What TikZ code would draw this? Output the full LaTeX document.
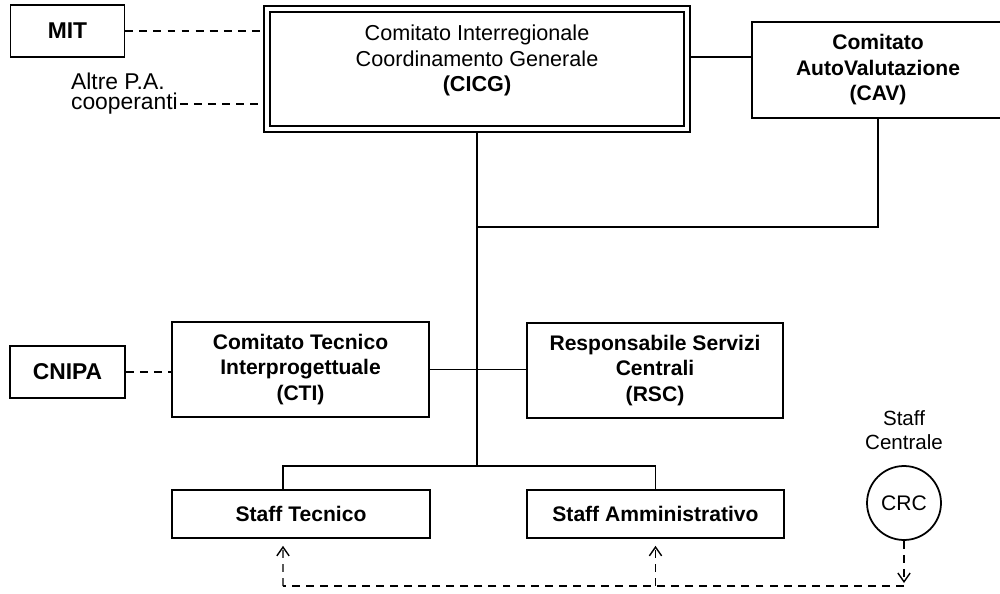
\documentclass[tikz,border=0pt]{standalone}
\usepackage{fontspec}
\setmainfont{Liberation Sans}
\usepackage{tikz}
\usetikzlibrary{arrows.meta}
\tikzset{
  box/.style={draw, line width=1pt, align=center, inner sep=2pt, font=\fontsize{12}{14.5}\selectfont\bfseries},
  headbox/.style={draw, double, line width=1.1pt, double distance=2.2pt, outer sep=2.2pt, align=center, font=\fontsize{12.3}{14.3}\selectfont},
  note/.style={inner sep=1pt, align=center, font=\fontsize{13}{14}\selectfont},
  link/.style={line width=0.8pt},
  dashlink/.style={line width=0.8pt, dash pattern=on 4.5pt off 3.5pt},
  arrow/.style={-{Straight Barb[length=5pt,width=7pt]}}
}

\begin{document}
\begin{tikzpicture}[x=0.02cm, y=-0.02cm]
		\useasboundingbox (0,0) rectangle (1000,594);
		% organi
		\node[headbox, minimum width=8.4cm, minimum height=2.4cm] (cicg) at (477,69) {Comitato Interregionale\\Coordinamento Generale\\\textbf{(CICG)}\\[-2pt]\mbox{}};
		\node[box, font=\fontsize{13}{15}\selectfont\bfseries, minimum width=2.28cm, minimum height=1.04cm] (mit) at (67.5,31) {MIT};
		\node[note, anchor=west] (altre1) at (69,81) {Altre P.A.};
		\node[note, anchor=west] (altre2) at (69,104) {cooperanti};
		\node[box, minimum width=5.04cm, minimum height=1.92cm] (cav) at (878,70) {Comitato\\AutoValutazione\\(CAV)};
		\node[box, minimum width=5.14cm, minimum height=1.9cm] (cti) at (300.5,369.5) {Comitato Tecnico\\Interprogettuale\\(CTI)};
		\node[box, minimum width=5.12cm, minimum height=1.9cm] (rsc) at (655,370.5) {Responsabile Servizi\\Centrali\\(RSC)};
		\node[box, font=\fontsize{13}{15}\selectfont\bfseries, minimum width=2.3cm, minimum height=1.04cm] (cnipa) at (67.5,372) {CNIPA};
		\node[box, minimum width=5.16cm, minimum height=0.96cm] (stec) at (301,514) {Staff Tecnico};
		\node[box, minimum width=5.14cm, minimum height=0.96cm] (samm) at (655.5,514) {Staff Amministrativo};
		\node[draw, circle, line width=1pt, minimum size=1.48cm, inner sep=0pt, font=\fontsize{12}{14}\selectfont] (crc) at (904,503) {CRC};
		\node[note, font=\fontsize{11.7}{13.6}\selectfont] (central) at (904,430) {Staff\\Centrale};
		% punti di snodo
		\coordinate (cavjoin) at (477,227);
		\coordinate (branch) at (477,466);
		\coordinate (busR) at (904,586);
		\coordinate (busL) at (283,586);
		% collegamenti
		\draw[dashlink] (mit.east) -- (mit.east -| cicg.west);
		\draw[dashlink] (altre2.east) -- (altre2.east -| cicg.west);
		\draw[link] ([yshift=0.26cm]cav.west) -- ([yshift=0.26cm]cav.west -| cicg.east);
		\draw[link] (cicg.south) -- (branch);
		\draw[link] (cav.south) |- (cavjoin);
		\draw[link] (cti.east) -- (cti.east -| rsc.west);
		\draw[dashlink] (cnipa.east) -- (cnipa.east -| cti.west);
		\draw[link] ([xshift=-0.36cm]stec.north) |- (branch) -| (samm.north);
		\draw[dashlink, arrow] (crc.south) -- ([yshift=0.06cm]busR);
		\draw[dashlink] (busR) -- (busL);
		\draw[dashlink, arrow] (busL) -- ([xshift=-0.36cm, yshift=-0.14cm]stec.south);
		\draw[dashlink, arrow] (samm.south |- busL) -- ([yshift=-0.14cm]samm.south);
	\end{tikzpicture}
\end{document}
